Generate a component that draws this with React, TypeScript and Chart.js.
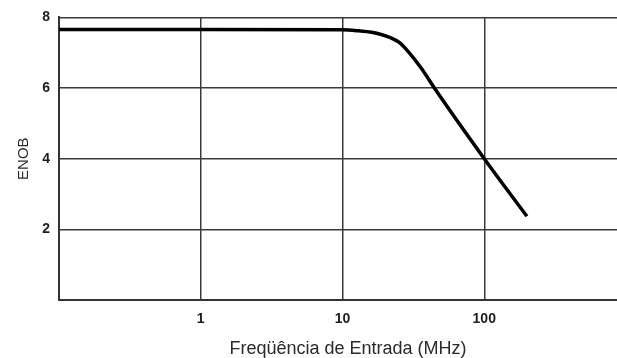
import React, { useEffect, useRef } from "react";
import { Chart, registerables } from "chart.js";

Chart.register(...registerables);

// ENOB versus input frequency (MHz, log scale)
const frequenciesMHz = [0.1, 1, 10, 13, 16, 19, 22, 25, 29, 36, 45, 100, 200];
const enobValues = [7.66, 7.66, 7.65, 7.62, 7.58, 7.51, 7.42, 7.3, 7.04, 6.56, 5.97, 4.0, 2.37];

const xGridValues = [0.1, 1, 10, 100, 1000];
const xTickLabels = ["1", "10", "100"];
const yGridValues = [0, 2, 4, 6, 8];
const yTickLabels = ["2", "4", "6", "8"];

const xAxisTitle = "Freqüência de Entrada (MHz)";
const yAxisTitle = "ENOB";

const FONT = "Arial, 'Liberation Sans', sans-serif";

const axisTitles = {
  id: "axisTitles",
  afterDraw(chart: any) {
    const { ctx, chartArea } = chart;
    ctx.save();
    ctx.fillStyle = "#2a2a2a";
    ctx.textAlign = "center";
    ctx.textBaseline = "alphabetic";
    ctx.font = `18px ${FONT}`;
    const visibleRight = Math.min(chartArea.right, 617);
    ctx.fillText(xAxisTitle, (chartArea.left + visibleRight) / 2 + 10, 354);

    ctx.font = `15px ${FONT}`;
    ctx.translate(28, (chartArea.top + chartArea.bottom) / 2);
    ctx.rotate(-Math.PI / 2);
    ctx.fillText(yAxisTitle, 0, 0);
    ctx.restore();
  },
};

export default function App() {
  const canvasRef = useRef<HTMLCanvasElement | null>(null);

  useEffect(() => {
    const canvas = canvasRef.current;
    if (!canvas) return;

    const gridColor = "#3a3a3a";
    const tickFont = { family: FONT, size: 14, weight: "bold" as const };

    const chart = new Chart(canvas, {
      type: "line",
      data: {
        datasets: [
          {
            data: frequenciesMHz.map((f, i) => ({ x: f, y: enobValues[i] })),
            borderColor: "#000000",
            borderWidth: 3.5,
            pointRadius: 0,
            cubicInterpolationMode: "monotone",
            fill: false,
          },
        ],
      },
      options: {
        responsive: false,
        animation: false,
        devicePixelRatio: 1,
        layout: { padding: { left: 0, top: 16, right: 0, bottom: 0 } },
        plugins: {
          legend: { display: false },
          tooltip: { enabled: false },
          title: { display: false },
        },
        scales: {
          x: {
            type: "logarithmic",
            min: 0.1,
            max: 1000,
            afterBuildTicks: (scale: any) => {
              scale.ticks = xGridValues.map((v) => ({ value: v }));
            },
            afterFit: (scale: any) => {
              scale.height = 58;
            },
            ticks: {
              autoSkip: false,
              maxRotation: 0,
              padding: 11,
              color: "#1e1e1e",
              font: tickFont,
              callback: (v: any) => (xTickLabels.includes(String(v)) ? String(v) : ""),
            },
            grid: { color: gridColor, lineWidth: 1.5, drawTicks: false },
            border: { color: "#333333", width: 2 },
          },
          y: {
            min: 0,
            max: 8,
            afterBuildTicks: (scale: any) => {
              scale.ticks = yGridValues.map((v) => ({ value: v }));
            },
            afterFit: (scale: any) => {
              scale.width = 59;
            },
            ticks: {
              padding: 9,
              color: "#1e1e1e",
              font: tickFont,
              callback: (v: any) => (yTickLabels.includes(String(v)) ? String(v) : ""),
            },
            grid: { color: gridColor, lineWidth: 1.5, drawTicks: false },
            border: { color: "#333333", width: 2 },
          },
        },
      },
      plugins: [axisTitles],
    });

    return () => chart.destroy();
  }, []);

  return (
    <div
      style={{
        position: "absolute",
        left: 0,
        top: 0,
        width: 617,
        height: 358,
        overflow: "hidden",
        background: "#ffffff",
      }}
    >
      <canvas ref={canvasRef} width={637} height={358} style={{ display: "block" }} />
    </div>
  );
}
